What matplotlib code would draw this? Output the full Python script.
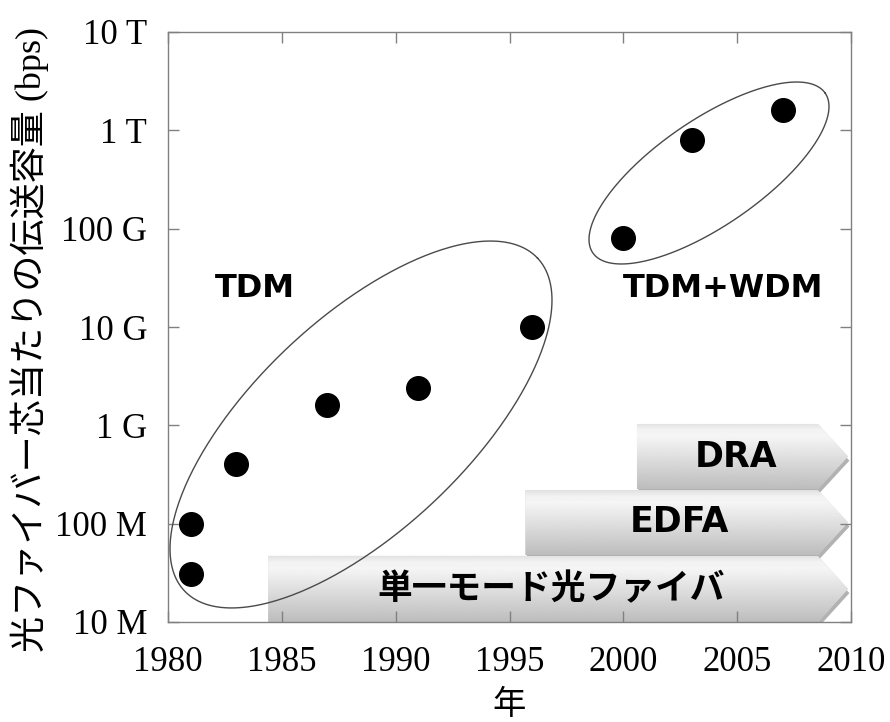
import numpy as np
import matplotlib
matplotlib.use('Agg')
import matplotlib.pyplot as plt
from matplotlib.patches import Polygon
from matplotlib.image import AxesImage
from matplotlib.ticker import NullLocator
import matplotlib.patheffects as pe

# ---- data ----
years = [1981, 1981, 1983, 1987, 1991, 1996, 2000, 2003, 2007]
capacity = [3.1e7, 1.0e8, 4.0e8, 1.6e9, 2.4e9, 1.0e10, 8.0e10, 8.0e11, 1.6e12]

xtick_values = [1980, 1985, 1990, 1995, 2000, 2005, 2010]
ytick_values = [1e7, 1e8, 1e9, 1e10, 1e11, 1e12, 1e13]
ytick_labels = ['10 M', '100 M', '1 G', '10 G', '100 G', '1 T', '10 T']

tech_labels = ['単一モード光ファイバ', 'EDFA', 'DRA']
tech_start = [1984.4, 1995.7, 2000.6]

group_labels = ['TDM', 'TDM+WDM']
group_label_x = [1983.8, 2004.4]
group_label_y = [2.0e10, 2.0e10]

xlabel = '年'
ylabel = '光ファイバー芯当たりの伝送容量 (bps)'

plt.rcParams['font.family'] = ['Liberation Serif', 'Noto Sans CJK JP', 'DejaVu Sans']

fig = plt.figure(figsize=(8.9, 7.22), dpi=100)
ax = fig.add_axes([168 / 890, 100 / 722, 683 / 890, 590 / 722])
ax.set_yscale('log')

# ---- technology banners ----
bands = [(0.0, 0.112), (0.1136, 0.2237), (0.2254, 0.3356)]
tip_x = 2009.87
shoulder_x = 2008.55
trans = ax.get_xaxis_transform()
t = np.linspace(0, 1, 200)
grad = np.interp(t, [0, 0.1, 0.2, 1], [0.88, 0.95, 0.96, 0.74]).reshape(-1, 1)
for label, x0, (y0, y1) in zip(tech_labels, tech_start, bands):
    ym = (y0 + y1) / 2
    verts = [(x0, y0), (shoulder_x, y0), (tip_x, ym), (shoulder_x, y1), (x0, y1)]
    poly = Polygon(verts, closed=True, transform=trans, facecolor='#d8d8d8',
                   edgecolor='none', zorder=1,
                   path_effects=[pe.SimplePatchShadow(offset=(1, -3), shadow_rgbFace='k', alpha=0.3),
                                 pe.Normal()])
    ax.add_patch(poly)
    im = AxesImage(ax, cmap='gray', extent=(0, 1, y0, y1), transform=ax.transAxes,
                   interpolation='bilinear', zorder=1.1)
    im.set_data(grad)
    im.set_clim(0, 1)
    im.set_clip_path(poly)
    ax.add_artist(im)
    fam = ['Noto Sans CJK JP'] if label == tech_labels[0] else ['DejaVu Sans']
    ax.text((x0 + tip_x) / 2 - 0.3, ym, label, transform=trans, ha='center', va='center',
            fontsize=25, fontweight='bold', family=fam, color='black', zorder=2)

# ---- data points ----
ax.plot(years, capacity, 'o', color='black', markersize=17, zorder=4, clip_on=False)

# ---- grouping ellipses (pixel-true shape) ----
W, H = ax.bbox.width, ax.bbox.height
ellipses = [((193 / 683, 197.5 / 590), 242.6, 106.2, 43.3),
            ((541 / 683, 449 / 590), 141.0, 52.9, 34.5)]
s = np.linspace(0, 2 * np.pi, 400)
for (cx, cy), a, b, ang in ellipses:
    th = np.deg2rad(ang)
    ex = cx + (a * np.cos(s) * np.cos(th) - b * np.sin(s) * np.sin(th)) / W
    ey = cy + (a * np.cos(s) * np.sin(th) + b * np.sin(s) * np.cos(th)) / H
    ax.plot(ex, ey, color='#4a4a4a', lw=1.0, transform=ax.transAxes, zorder=3, clip_on=False)

# ---- group labels ----
for lab, gx, gy in zip(group_labels, group_label_x, group_label_y):
    ax.text(gx, gy, lab, ha='center', va='baseline', fontsize=23, fontweight='bold',
            family=['DejaVu Sans'], color='black', zorder=5)

# ---- axes styling ----
ax.set_xlim(1980, 2010)
ax.set_ylim(1e7, 1e13)
ax.set_xticks(xtick_values)
ax.set_xticklabels([str(v) for v in xtick_values])
ax.set_yticks(ytick_values)
ax.set_yticklabels(ytick_labels)
ax.yaxis.set_minor_locator(NullLocator())
ax.xaxis.set_minor_locator(NullLocator())
ax.tick_params(direction='in', length=8, width=1, color='#808080', top=True, right=True,
               labelsize=25, labelcolor='black')
ax.tick_params(axis='x', pad=17)
ax.tick_params(axis='y', pad=15)
for sp in ax.spines.values():
    sp.set_color('#808080')
    sp.set_linewidth(1.0)

ax.set_xlabel(xlabel, fontsize=24, family=['Noto Sans CJK JP'], va='center')
ax.xaxis.set_label_coords(0.5, -0.140)
ax.set_ylabel(ylabel, fontsize=26, va='center')
ax.yaxis.set_label_coords(-0.202, 0.478)

fig.savefig('out.png', dpi=100)
